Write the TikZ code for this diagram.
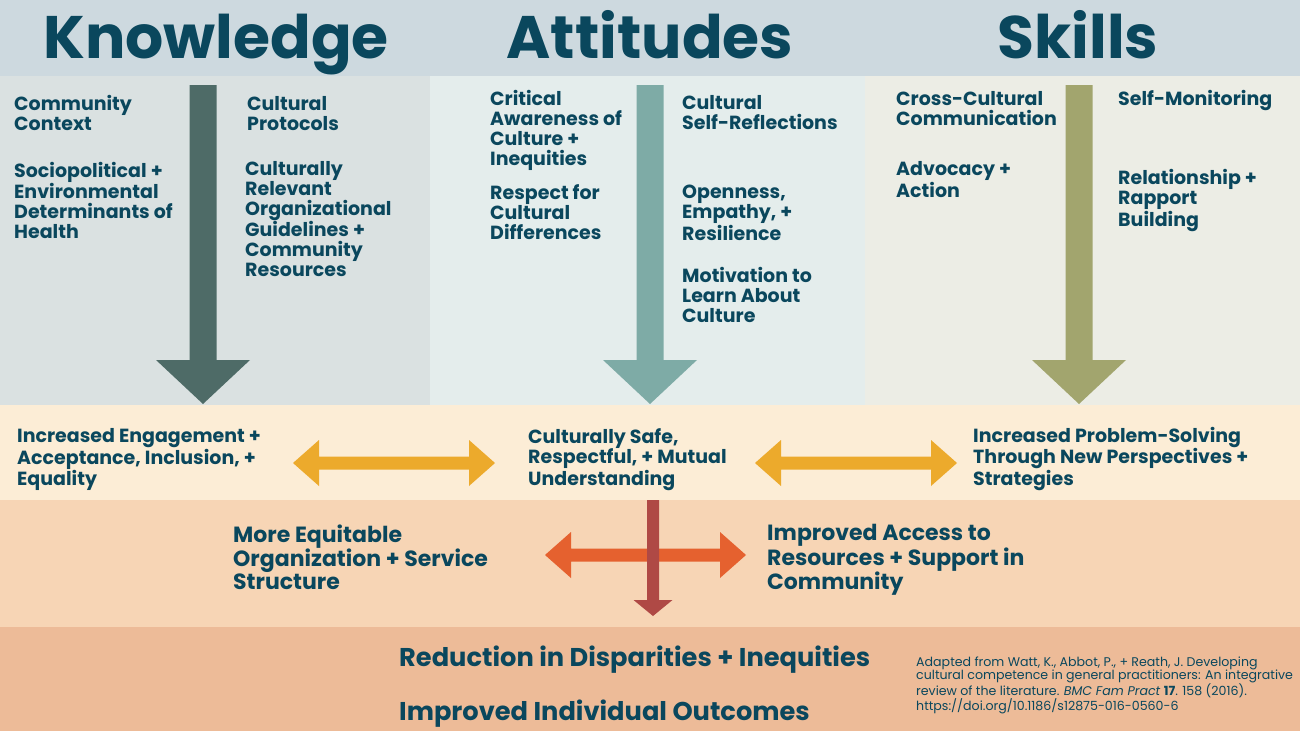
\documentclass[tikz,border=0pt]{standalone}
\usepackage{fontspec}
\setmainfont{Poppins}
\definecolor{hdr}{HTML}{CDD9DF}
\definecolor{kpan}{HTML}{DAE1E1}
\definecolor{apan}{HTML}{E4EDEC}
\definecolor{span}{HTML}{ECEDE5}
\definecolor{band2}{HTML}{FCEDD6}
\definecolor{band3}{HTML}{F7D5B5}
\definecolor{band4}{HTML}{EDBB98}
\definecolor{ink}{HTML}{0A475D}
\definecolor{karr}{HTML}{4E6B67}
\definecolor{aarr}{HTML}{7EABA6}
\definecolor{sarr}{HTML}{A2A56E}
\definecolor{gold}{HTML}{ECAA2C}
\definecolor{orng}{HTML}{E5612F}
\definecolor{redd}{HTML}{AF4945}
\tikzset{
  title/.style={font=\bfseries\fontsize{60}{60}\selectfont, text=ink, anchor=base, inner sep=0},
  body/.style={font=\bfseries\fontsize{19}{20}\selectfont, text=ink, align=left, anchor=base west, inner sep=0},
  big/.style={font=\bfseries\fontsize{22}{23}\selectfont, text=ink, align=left, anchor=base west, inner sep=0},
  huge/.style={font=\bfseries\fontsize{25.7}{27}\selectfont, text=ink, align=left, anchor=base west, inner sep=0},
  cite/.style={font=\fontsize{12.6}{13.4}\selectfont, text=ink, align=left, anchor=base west, inner sep=0},
}
\newcommand{\downarrowshape}[6]{% xcenter, shaft half width, top, head y, head half width, tip y
  \fill (#1-#2,#3) -- (#1+#2,#3) -- (#1+#2,#4) -- (#1+#5,#4) -- (#1,#6) -- (#1-#5,#4) -- (#1-#2,#4) -- cycle;}
\newcommand{\dblarrowshape}[3]{% x1, x2, yc
  \fill (#1,#3) -- (#1+26,#3-23) -- (#1+26,#3-6.5) -- (#2-26,#3-6.5) -- (#2-26,#3-23) -- (#2,#3)
     -- (#2-26,#3+23) -- (#2-26,#3+6.5) -- (#1+26,#3+6.5) -- (#1+26,#3+23) -- cycle;}
\begin{document}
\begin{tikzpicture}[x=1pt,y=-1pt]
\useasboundingbox (0,0) rectangle (1300,731);
% backgrounds
\fill[hdr] (0,0) rectangle (1300,76);
\fill[kpan] (0,76) rectangle (430,405);
\fill[apan] (430,76) rectangle (865,405);
\fill[span] (865,76) rectangle (1300,405);
\fill[band2] (0,405) rectangle (1300,500);
\fill[band3] (0,500) rectangle (1300,627);
\fill[band4] (0,627) rectangle (1300,731);
% titles
\node[title] (tk) at (216,58) {Knowledge};
\node[title] (ta) at (650,58) {Attitudes};
\node[title] (ts) at (1078,58) {Skills};
% big down arrows
\begin{scope}[karr]\downarrowshape{203}{13.5}{85}{360}{47}{404}\end{scope}
\begin{scope}[aarr]\downarrowshape{650}{13.5}{85}{360}{47}{404}\end{scope}
\begin{scope}[sarr]\downarrowshape{1079}{13.5}{85}{360}{47}{404}\end{scope}
% knowledge texts (anchor = baseline of last line)
\node[body] (k1) at (14,130.5) {Community\\Context};
\node[body] (k2) at (14,238.3) {Sociopolitical +\\Environmental\\Determinants of\\Health};
\node[body] (k3) at (247,130) {Cultural\\Protocols};
\node[body] (k4) at (245,276.7) {Culturally\\Relevant\\Organizational\\Guidelines +\\Community\\Resources};
% attitudes texts
\node[body] (a1) at (490,165) {Critical\\Awareness of\\Culture +\\Inequities};
\node[body] (a2) at (490,239) {Respect for\\Cultural\\Differences};
\node[body] (a3) at (682,129) {Cultural\\Self-Reflections};
\node[body] (a4) at (682,240) {Openness,\\Empathy, +\\Resilience};
\node[body] (a5) at (682,322) {Motivation to\\Learn About\\Culture};
% skills texts
\node[body] (s1) at (896,125) {Cross-Cultural\\Communication};
\node[body] (s2) at (896,197) {Advocacy +\\Action};
\node[body] (s3) at (1118,105) {Self-Monitoring};
\node[body] (s4) at (1118,226) {Relationship +\\Rapport\\Building};
% band 2
\node[body] (b1) at (17,485.5) {Increased Engagement +\\Acceptance, Inclusion, +\\Equality};
\node[body] (b2) at (528,485) {Culturally Safe,\\Respectful, + Mutual\\Understanding};
\node[body] (b3) at (973,485) {Increased Problem-Solving\\Through New Perspectives +\\Strategies};
\begin{scope}[gold]
\dblarrowshape{293}{495}{463}
\dblarrowshape{755}{957}{463}
\end{scope}
% band 3
\node[big] (c1) at (233,589.5) {More Equitable\\Organization + Service\\Structure};
\node[big] (c2) at (767,589.5) {Improved Access to\\Resources + Support in\\Community};
\begin{scope}[orng]\dblarrowshape{545}{746}{555}\end{scope}
\begin{scope}[redd]\downarrowshape{653}{6}{500}{600}{19.5}{616}\end{scope}
% band 4
\node[huge] (d1) at (399,666) {Reduction in Disparities + Inequities};
\node[huge] (d2) at (399,720) {Improved Individual Outcomes};
\node[cite] (cit) at (916,710.9) {Adapted from Watt, K., Abbot, P., + Reath, J. Developing\\cultural competence in general practitioners: An integrative\\review of the literature. \textit{BMC Fam Pract} \textbf{17}. 158 (2016).\\https://doi.org/10.1186/s12875-016-0560-6};
\end{tikzpicture}
\end{document}
